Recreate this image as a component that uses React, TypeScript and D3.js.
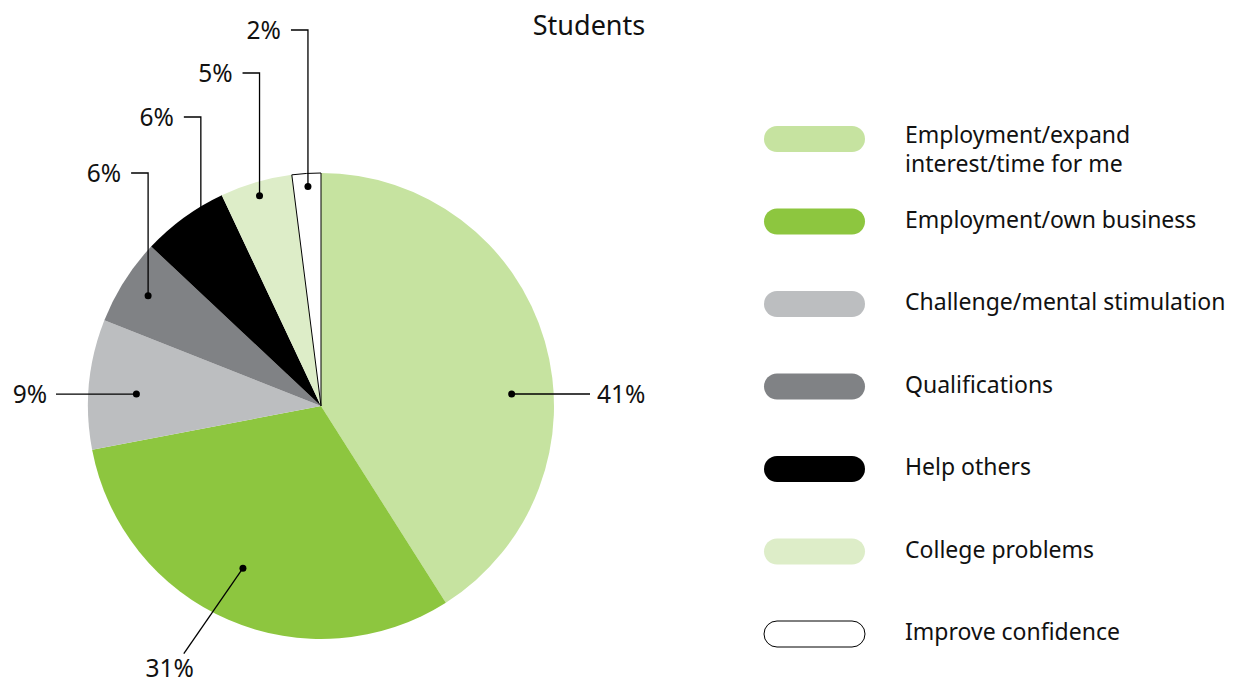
import React, { useRef, useEffect } from "react";
import * as d3 from "d3";

// data
const categories = [
    "Employment/expand interest/time for me",
    "Employment/own business",
    "Challenge/mental stimulation",
    "Qualifications",
    "Help others",
    "College problems",
    "Improve confidence",
];
const legendLines = [
    ["Employment/expand", "interest/time for me"],
    ["Employment/own business"],
    ["Challenge/mental stimulation"],
    ["Qualifications"],
    ["Help others"],
    ["College problems"],
    ["Improve confidence"],
];
const values = [41, 31, 9, 6, 6, 5, 2];
const colors = ["#c6e3a0", "#8dc63f", "#bcbec0", "#808285", "#000000", "#ddedc8", "#ffffff"];

// label placement (angles in degrees clockwise from top)
const labelLayout: any[] = [
    { kind: "right", dotAngle: 86.4, dotR: 191, endX: 590 },
    { kind: "diag", dotAngle: 205.7, dotR: 180, endAngle: 209, endR: 283 },
    { kind: "left", dotAngle: 273.7, dotR: 185, endX: 56 },
    { kind: "up", dotAngle: 302.5, dotR: 205, elbowY: 173 },
    { kind: "up", dotAngle: 323.5, dotR: 202, elbowY: 117 },
    { kind: "up", dotAngle: 343.7, dotR: 219, elbowY: 73 },
    { kind: "up", dotAngle: 356.6, dotR: 220, elbowY: 30 },
];

const FONT = "'Noto Sans', sans-serif";

const App = () => {
    const svgRef = useRef(null);

    useEffect(() => {
        const width = 1235;
        const height = 686;
        const cx = 321;
        const cy = 406;
        const radius = 233;

        const svg = d3.select(svgRef.current).attr("width", width).attr("height", height);
        svg.selectAll("*").remove();

        const pt = (deg: number, r: number) => {
            const a = (deg * Math.PI) / 180;
            return [cx + r * Math.sin(a), cy - r * Math.cos(a)];
        };

        svg.append("text")
            .attr("x", 589)
            .attr("y", 35)
            .attr("text-anchor", "middle")
            .attr("font-family", FONT)
            .attr("font-size", 27)
            .attr("fill", "#111")
            .text("Students");

        const pie = d3.pie<number>().sort(null).value((d) => d);
        const arcs = pie(values);
        const arc = d3.arc<any>().innerRadius(0).outerRadius(radius);

        const g = svg.append("g").attr("transform", `translate(${cx},${cy})`);
        g.selectAll("path")
            .data(arcs)
            .enter()
            .append("path")
            .attr("d", arc)
            .attr("fill", (d, i) => colors[i])
            .attr("stroke", (d, i) => (i === values.length - 1 ? "#000" : "none"))
            .attr("stroke-width", 1);

        // leader lines + labels
        const lab = svg.append("g").attr("font-family", FONT).attr("font-size", 24.5).attr("fill", "#111");
        labelLayout.forEach((l, i) => {
            const [dx, dy] = pt(l.dotAngle, l.dotR);
            const txt = `${values[i]}%`;
            let pts: number[][] = [];
            let tx = 0, ty = 0, anchor = "start";
            if (l.kind === "right") {
                pts = [[dx, dy], [l.endX, dy]];
                tx = l.endX + 7; ty = dy; anchor = "start";
            } else if (l.kind === "left") {
                pts = [[dx, dy], [l.endX, dy]];
                tx = l.endX - 9; ty = dy; anchor = "end";
            } else if (l.kind === "diag") {
                const e = pt(l.endAngle, l.endR);
                pts = [[dx, dy], e];
                tx = e[0] - 14; ty = e[1] + 15; anchor = "middle";
            } else {
                pts = [[dx, dy], [dx, l.elbowY], [dx - 17, l.elbowY]];
                tx = dx - 27; ty = l.elbowY; anchor = "end";
            }
            lab.append("path")
                .attr("d", d3.line()(pts as any))
                .attr("fill", "none")
                .attr("stroke", "#000")
                .attr("stroke-width", 1.3);
            lab.append("circle").attr("cx", dx).attr("cy", dy).attr("r", 3.5).attr("fill", "#000");
            lab.append("text")
                .attr("x", tx)
                .attr("y", ty)
                .attr("dy", "0.36em")
                .attr("text-anchor", anchor)
                .text(txt);
        });

        // legend
        const y = d3.scalePoint<string>().domain(categories).range([139, 634]);
        const leg = svg.append("g").attr("font-family", FONT).attr("font-size", 23).attr("fill", "#111");
        categories.forEach((c, i) => {
            const yc = y(c) as number;
            leg.append("rect")
                .attr("x", 764)
                .attr("y", yc - 13)
                .attr("width", 101)
                .attr("height", 26)
                .attr("rx", 13)
                .attr("fill", colors[i])
                .attr("stroke", i === categories.length - 1 ? "#000" : "none")
                .attr("stroke-width", 1);
            const lines = legendLines[i];
            const t = leg.append("text").attr("x", 905).attr("y", yc);
            lines.forEach((ln, j) => {
                t.append("tspan")
                    .attr("x", 905)
                    .attr("y", lines.length > 1 ? yc - 4 + j * 29 : yc - 2)
                    .attr("dy", "0.35em")
                    .text(ln);
            });
        });
    }, []);

    return <svg ref={svgRef} style={{ position: "absolute", left: 0, top: 0 }}></svg>;
};

export default App;
